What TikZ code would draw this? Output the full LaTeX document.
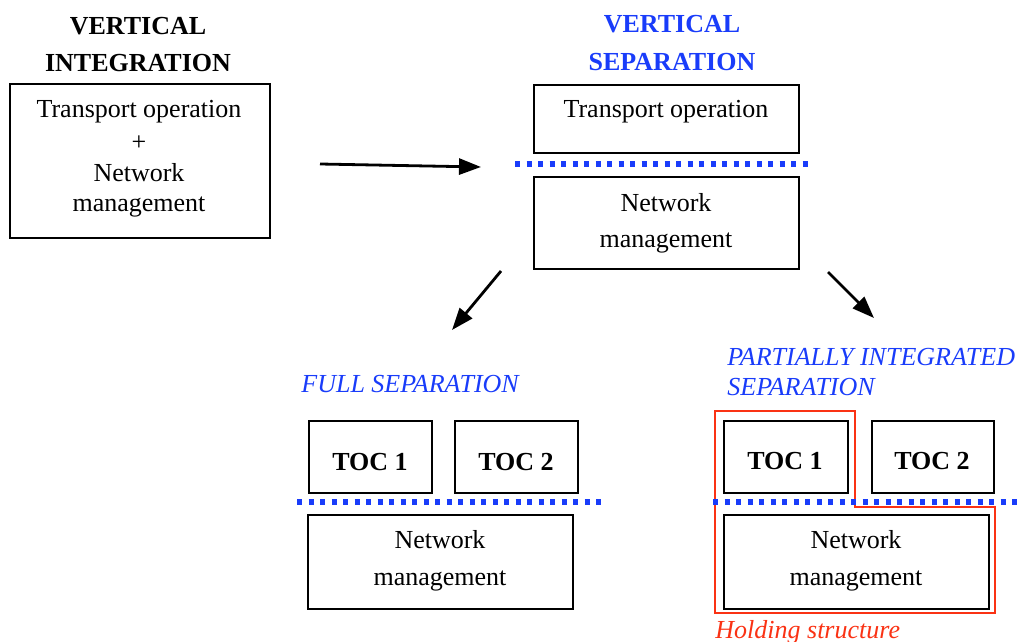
\documentclass[tikz,border=0pt]{standalone}
\usepackage{fontspec}
\setmainfont{Liberation Serif}
\usetikzlibrary{arrows.meta}
\definecolor{tblue}{RGB}{25,60,250}
\definecolor{tred}{RGB}{250,50,20}
\begin{document}
\begin{tikzpicture}[x=0.5pt, y=-0.5pt,
  every node/.style={font=\fontsize{13pt}{15.6pt}\selectfont},
  box/.style={draw, line width=1pt, inner sep=0pt, anchor=north west},
  txt/.style={anchor=base, inner sep=0pt},
  ltxt/.style={anchor=base west, inner sep=0pt},
  btitle/.style={txt, font=\fontsize{13pt}{15.6pt}\selectfont\bfseries},
  itblue/.style={ltxt, text=tblue, font=\fontsize{13pt}{15.6pt}\selectfont\itshape},
  sepline/.style={draw=tblue, line width=2.6pt, dash pattern=on 2.6pt off 3.15pt},
  flow/.style={line width=1.4pt, -{Triangle[length=11pt,width=8pt]}}
]
\useasboundingbox (0,0) rectangle (1028,642);

% ---- vertical integration ----
\node[btitle] (t1a) at (138,35) {VERTICAL};
\node[btitle] (t1b) at (138,72) {INTEGRATION};
\node[box, minimum width=130pt, minimum height=77pt] (b1) at (9,83) {};
\node[txt] (b1l1) at (139,118) {Transport operation};
\node[txt] (b1l2) at (139,150) {+};
\node[txt] (b1l3) at (139,181) {Network};
\node[txt] (b1l4) at (139,211) {management};

% ---- vertical separation ----
\node[btitle, text=tblue] (t2a) at (672,33) {VERTICAL};
\node[btitle, text=tblue] (t2b) at (672,71) {SEPARATION};
\node[box, minimum width=132.5pt, minimum height=34pt] (ts) at (533,84) {};
\node[txt] (tsl) at (666,118) {Transport operation};
\node[box, minimum width=132.5pt, minimum height=46pt] (nm) at (533,176) {};
\node[txt] (nml1) at (666,211) {Network};
\node[txt] (nml2) at (666,247) {management};
\draw[sepline] (515,164) -- (808,164);

% ---- arrows ----
\coordinate (a1s) at (320,164);
\coordinate (a1e) at (481,167);
\coordinate (a2s) at (501,271);
\coordinate (a2e) at (452,330);
\coordinate (a3s) at (828,272);
\coordinate (a3e) at (874,318);
\draw[flow] (a1s) -- (a1e);
\draw[flow] (a2s) -- (a2e);
\draw[flow] (a3s) -- (a3e);

% ---- full separation ----
\node[itblue] (t3) at (301,392) {FULL SEPARATION};
\node[box, minimum width=61.5pt, minimum height=36pt] (f1) at (308,420) {};
\node[box, minimum width=61.5pt, minimum height=36pt] (f2) at (454,420) {};
\node[btitle] (f1l) at (370,470) {TOC 1};
\node[btitle] (f2l) at (516,470) {TOC 2};
\node[box, minimum width=132.5pt, minimum height=47pt] (fn) at (307,514) {};
\node[txt] (fnl1) at (440,548) {Network};
\node[txt] (fnl2) at (440,585) {management};
\draw[sepline] (297,502) -- (602,502);

% ---- partially integrated separation ----
\node[itblue] (t4a) at (727,365) {PARTIALLY INTEGRATED};
\node[itblue] (t4b) at (727,395) {SEPARATION};
\draw[tred, line width=1.1pt] (715,411) -- (855,411) -- (855,507) -- (995,507) -- (995,613) -- (715,613) -- cycle;
\node[box, minimum width=62pt, minimum height=36pt] (p1) at (723,420) {};
\node[box, minimum width=61pt, minimum height=36pt] (p2) at (871,420) {};
\node[btitle] (p1l) at (785,469) {TOC 1};
\node[btitle] (p2l) at (932,469) {TOC 2};
\node[box, minimum width=132.5pt, minimum height=47pt] (pn) at (723,514) {};
\node[txt] (pnl1) at (856,548) {Network};
\node[txt] (pnl2) at (856,585) {management};
\draw[sepline] (713,502) -- (1017,502);
\node[ltxt, text=tred, font=\fontsize{13pt}{15.6pt}\selectfont\itshape] (hs) at (715,638) {Holding structure};
\end{tikzpicture}
\end{document}
